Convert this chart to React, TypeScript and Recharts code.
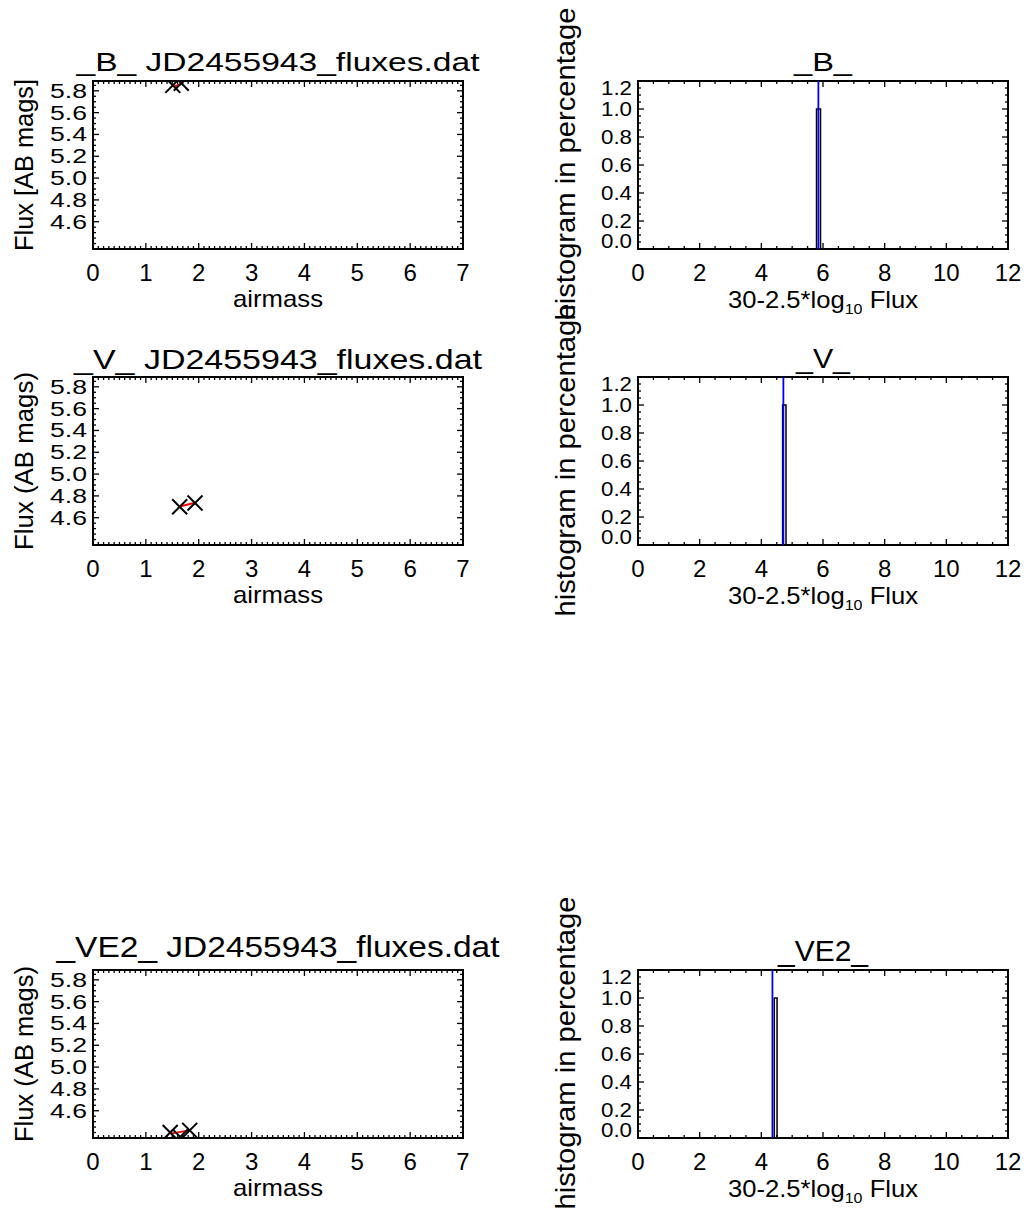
import React from 'react';
import { ComposedChart, XAxis, YAxis, Scatter, Line, ReferenceLine, Customized } from 'recharts';

const FONT = '"Liberation Sans", Arial, Helvetica, sans-serif';

// ---------------- data ----------------
const bands = ['_B_', '_V_', '_VE2_'];
const fileLabel = 'JD2455943_fluxes.dat';
const leftYLabels = ['Flux [AB mags]', 'Flux (AB mags)', 'Flux (AB mags)'];
const leftXLabel = 'airmass';
const histYLabel = 'histogram in percentage';

const airmassB = [1.51, 1.67];
const magB = [5.85, 5.87];
const airmassV = [1.64, 1.93];
const magV = [4.7, 4.735];
const airmassVE2 = [1.46, 1.65, 1.83];
const magVE2 = [4.4, 4.36, 4.42];

const fitAirmassB = [1.54, 1.68];
const fitMagB = [5.84, 5.865];
const fitAirmassV = [1.66, 1.91];
const fitMagV = [4.705, 4.735];
const fitAirmassVE2 = [1.46, 1.83];
const fitMagVE2 = [4.39, 4.42];

const binEdgesB = [5.79, 5.92];
const binEdgesV = [4.69, 4.8];
const binEdgesVE2 = [4.42, 4.51];
const binPercentB = 1.0;
const binPercentV = 1.0;
const binPercentVE2 = 1.0;
const medianB = 5.85;
const medianV = 4.715;
const medianVE2 = 4.36;

const airmassDomain = [0, 7];
const magDomain = [4.35, 5.89];
const histXDomain = [0, 12];
const histYDomain = [0, 1.2];
const airmassMajorTicks = [0, 1, 2, 3, 4, 5, 6, 7];
const magMajorTicks = [4.6, 4.8, 5.0, 5.2, 5.4, 5.6, 5.8];
const histXMajorTicks = [0, 2, 4, 6, 8, 10, 12];
const histYMajorTicks = [0, 0.2, 0.4, 0.6, 0.8, 1.0, 1.2];
const airmassMinorStep = 0.1;
const magMinorStep = 0.05;
const histXMinorStep = 0.5;
const histYMinorStep = 0.05;

// ---------------- layout ----------------
const W = 520;
const H = 320;
const ML = 93;
const MT = 80;
const PW = 370;
const PH = 168;
const AX = 1; // axis thickness reserved by recharts
const rowTops = [81, 377, 970];
const leftBoxX = 93;
const rightBoxX = 638;

const leftTitleStyle = [
  { size: 25, len: 403, off: -10 },
  { size: 28, len: 408, off: -8 },
  { size: 29, len: 443, off: -13 },
];
const rightTitleStyle = [
  { size: 25, len: 58, off: -10 },
  { size: 28, len: 54, off: -9 },
  { size: 29, len: 90, off: -9 },
];
const leftYLabelLen = [172, 178, 176];

const tickList = (domain: number[], step: number) => {
  const out: number[] = [];
  const start = Math.ceil(domain[0] / step - 1e-9);
  for (let i = start; i * step <= domain[1] + 1e-9; i++) out.push(+(i * step).toFixed(4));
  return out;
};
const isMajor = (majors: number[], v: number) => majors.some((m) => Math.abs(m - v) < 1e-6);
const MAJ = 6;
const MIN = 3;

const bottomTick = (majors: number[], fmt: (v: number) => string) => (p: any) => {
  const { x, payload } = p;
  const y = MT + PH;
  const v = payload.value;
  const maj = isMajor(majors, v);
  const len = maj ? MAJ : MIN;
  return (
    <g>
      <line x1={x} x2={x} y1={y} y2={y - len} stroke="#000" strokeWidth={1.3} />
      <line x1={x} x2={x} y1={MT} y2={MT + len} stroke="#000" strokeWidth={1.3} />
      {maj && (
        <text x={x} y={y + 32} textAnchor="middle" fontSize={24} fontFamily={FONT} fill="#000">
          {fmt(v)}
        </text>
      )}
    </g>
  );
};

const leftTick = (majors: number[], fmt: (v: number) => string, labelLen: number) => (p: any) => {
  const { y, payload } = p;
  const x = ML;
  const v = payload.value;
  const maj = isMajor(majors, v);
  const len = maj ? MAJ : MIN;
  const cy = Math.min(Math.max(y, MT + 7), MT + PH - 8);
  return (
    <g>
      <line x1={x} x2={x + len} y1={y} y2={y} stroke="#000" strokeWidth={1.3} />
      <line x1={ML + PW} x2={ML + PW - len} y1={y} y2={y} stroke="#000" strokeWidth={1.3} />
      {maj && (
        <text
          x={x - 6}
          y={cy + 7}
          textAnchor="end"
          fontSize={20}
          fontFamily={FONT}
          fill="#000"
          textLength={labelLen}
          lengthAdjust="spacingAndGlyphs"
        >
          {fmt(v)}
        </text>
      )}
    </g>
  );
};

const XMark = (p: any) => {
  const { cx, cy } = p;
  const s = 7.5;
  return (
    <g>
      <line x1={cx - s} y1={cy - s} x2={cx + s} y2={cy + s} stroke="#000" strokeWidth={2} />
      <line x1={cx - s} y1={cy + s} x2={cx + s} y2={cy - s} stroke="#000" strokeWidth={2} />
    </g>
  );
};

const Box = () => <rect x={ML} y={MT} width={PW} height={PH} fill="none" stroke="#000" strokeWidth={2} />;

const chartMargin = { top: MT, left: ML - AX, right: W - ML - PW, bottom: H - MT - PH - AX };

function LeftPanel({ row, airmass, mag, fitX, fitY }: any) {
  const pts = airmass.map((a: number, i: number) => ({ x: a, y: mag[i] }));
  const fit = fitX.map((a: number, i: number) => ({ x: a, y: fitY[i] }));
  const ts = leftTitleStyle[row];
  const Overlay = () => (
    <g fontFamily={FONT} fill="#000">
      <Box />
      <text x={ML + PW / 2} y={MT + ts.off} textAnchor="middle" fontSize={ts.size} textLength={ts.len} lengthAdjust="spacingAndGlyphs">
        {bands[row] + '   ' + fileLabel}
      </text>
      <text x={ML + PW / 2} y={MT + PH + 58} textAnchor="middle" fontSize={24} textLength={90} lengthAdjust="spacingAndGlyphs">
        {leftXLabel}
      </text>
      <text
        x={33}
        y={164}
        transform={`rotate(-90 33 164)`}
        textAnchor="middle"
        fontSize={25}
        textLength={leftYLabelLen[row]}
        lengthAdjust="spacingAndGlyphs"
      >
        {leftYLabels[row]}
      </text>
    </g>
  );
  return (
    <div style={{ position: 'absolute', left: leftBoxX - ML, top: rowTops[row] - MT, width: W, height: H }}>
      <ComposedChart width={W} height={H} margin={chartMargin}>
        <XAxis
          xAxisId="b"
          type="number"
          dataKey="x"
          domain={airmassDomain}
          ticks={tickList(airmassDomain, airmassMinorStep)}
          interval={0}
          allowDataOverflow
          height={AX}
          tickSize={0}
          tickMargin={0}
          tickLine={false}
          axisLine={false}
          tick={bottomTick(airmassMajorTicks, (v) => String(Math.round(v)))}
        />
        <YAxis
          yAxisId="l"
          type="number"
          dataKey="y"
          domain={magDomain}
          ticks={tickList(magDomain, magMinorStep)}
          interval={0}
          allowDataOverflow
          width={AX}
          tickSize={0}
          tickMargin={0}
          tickLine={false}
          axisLine={false}
          tick={leftTick(magMajorTicks, (v) => v.toFixed(1), 37)}
        />
        <Scatter xAxisId="b" yAxisId="l" data={pts} shape={<XMark />} isAnimationActive={false} />
        <Line
          xAxisId="b"
          yAxisId="l"
          data={fit}
          dataKey="y"
          stroke="#ff0000"
          strokeWidth={2}
          dot={false}
          type="linear"
          isAnimationActive={false}
        />
        <Customized component={Overlay} />
      </ComposedChart>
    </div>
  );
}

function RightPanel({ row, edges, percent, median }: any) {
  const hist = [
    { x: histXDomain[0], y: 0 },
    { x: edges[0], y: 0 },
    { x: edges[0], y: percent },
    { x: edges[1], y: percent },
    { x: edges[1], y: 0 },
    { x: histXDomain[1], y: 0 },
  ];
  const ts = rightTitleStyle[row];
  const Overlay = () => (
    <g fontFamily={FONT} fill="#000">
      <Box />
      <text x={ML + PW / 2} y={MT + ts.off} textAnchor="middle" fontSize={ts.size} textLength={ts.len} lengthAdjust="spacingAndGlyphs">
        {bands[row]}
      </text>
      <text x={ML + PW / 2} y={MT + PH + 59} textAnchor="middle" fontSize={24} textLength={190} lengthAdjust="spacingAndGlyphs">
        <tspan>30-2.5*log</tspan>
        <tspan fontSize={15} dy={6}>10</tspan>
        <tspan dy={-6}> Flux</tspan>
      </text>
      <text
        x={30}
        y={163}
        transform={`rotate(-90 30 163)`}
        textAnchor="middle"
        fontSize={27}
        textLength={313}
        lengthAdjust="spacingAndGlyphs"
      >
        {histYLabel}
      </text>
    </g>
  );
  return (
    <div style={{ position: 'absolute', left: rightBoxX - ML, top: rowTops[row] - MT, width: W, height: H }}>
      <ComposedChart width={W} height={H} margin={chartMargin}>
        <XAxis
          xAxisId="b"
          type="number"
          dataKey="x"
          domain={histXDomain}
          ticks={tickList(histXDomain, histXMinorStep)}
          interval={0}
          allowDataOverflow
          height={AX}
          tickSize={0}
          tickMargin={0}
          tickLine={false}
          axisLine={false}
          tick={bottomTick(histXMajorTicks, (v) => String(Math.round(v)))}
        />
        <YAxis
          yAxisId="l"
          type="number"
          dataKey="y"
          domain={histYDomain}
          ticks={tickList(histYDomain, histYMinorStep)}
          interval={0}
          allowDataOverflow
          width={AX}
          tickSize={0}
          tickMargin={0}
          tickLine={false}
          axisLine={false}
          tick={leftTick(histYMajorTicks, (v) => v.toFixed(1), 31)}
        />
        <Line
          xAxisId="b"
          yAxisId="l"
          data={hist}
          dataKey="y"
          stroke="#000"
          strokeWidth={1.5}
          dot={false}
          type="linear"
          isAnimationActive={false}
        />
        <ReferenceLine xAxisId="b" yAxisId="l" x={median} stroke="#0000ff" strokeWidth={1.8} />
        <Customized component={Overlay} />
      </ComposedChart>
    </div>
  );
}

export default function App() {
  return (
    <div style={{ position: 'absolute', left: 0, top: 0, width: 1030, height: 1210, overflow: 'hidden', background: '#fff' }}>
      <LeftPanel row={0} airmass={airmassB} mag={magB} fitX={fitAirmassB} fitY={fitMagB} />
      <RightPanel row={0} edges={binEdgesB} percent={binPercentB} median={medianB} />
      <LeftPanel row={1} airmass={airmassV} mag={magV} fitX={fitAirmassV} fitY={fitMagV} />
      <RightPanel row={1} edges={binEdgesV} percent={binPercentV} median={medianV} />
      <LeftPanel row={2} airmass={airmassVE2} mag={magVE2} fitX={fitAirmassVE2} fitY={fitMagVE2} />
      <RightPanel row={2} edges={binEdgesVE2} percent={binPercentVE2} median={medianVE2} />
    </div>
  );
}
